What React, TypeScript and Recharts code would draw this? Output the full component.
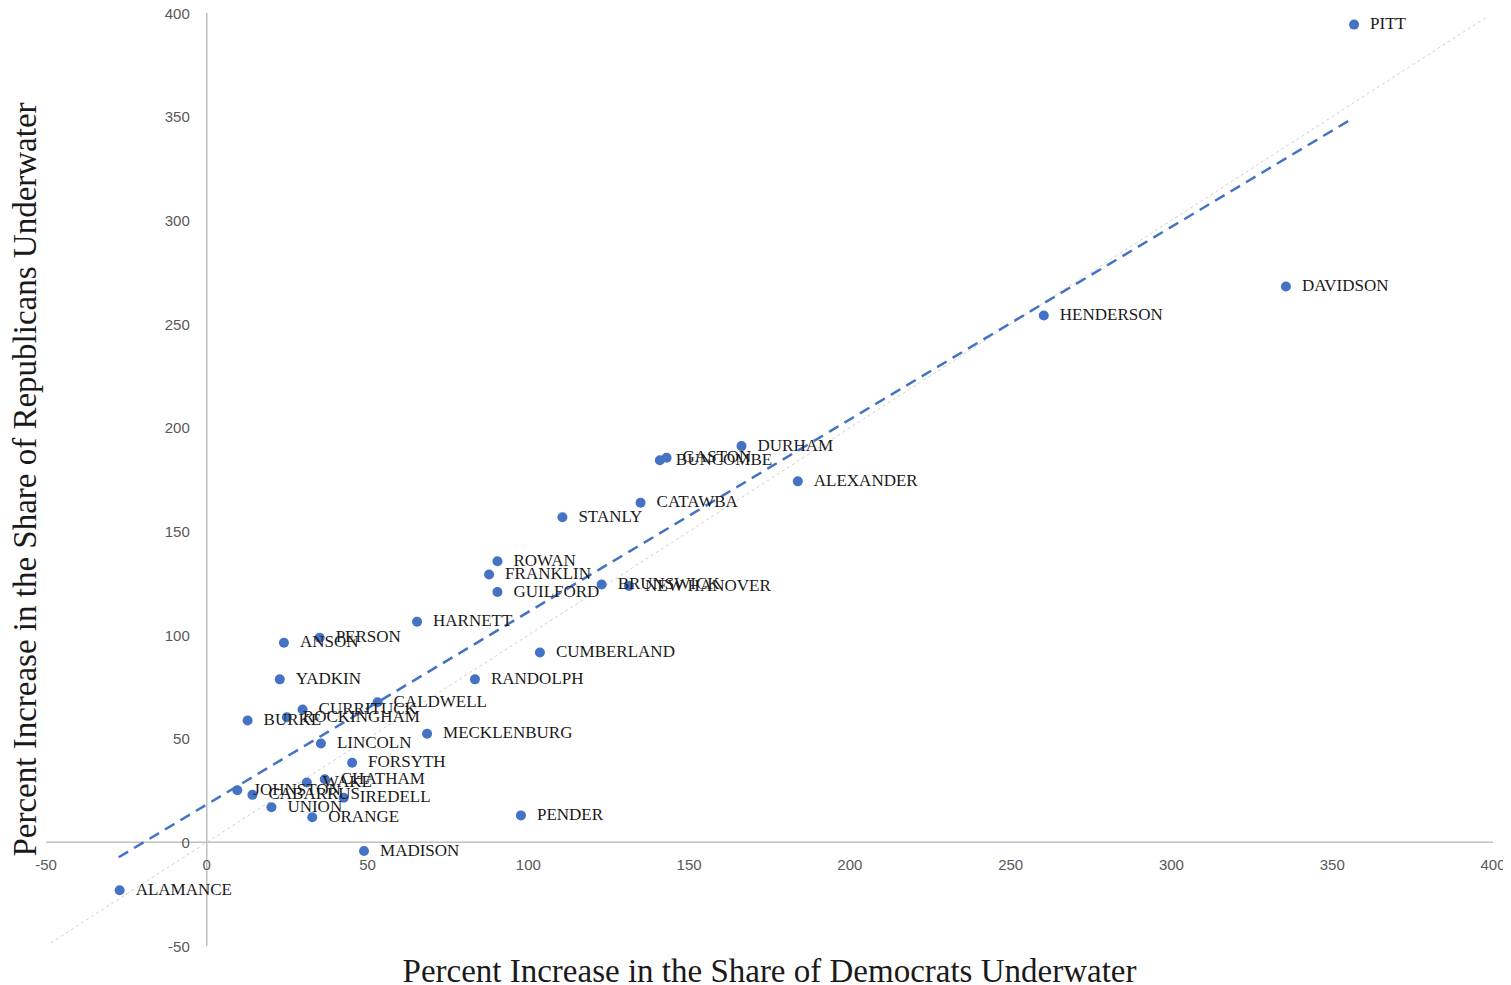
import React from 'react';
import { ScatterChart, Scatter, XAxis, YAxis, ReferenceLine, Label } from 'recharts';

// County names with percent increase in the share of voters underwater
const counties = [
  'PITT', 'DAVIDSON', 'HENDERSON', 'DURHAM', 'GASTON', 'BUNCOMBE', 'ALEXANDER',
  'CATAWBA', 'STANLY', 'ROWAN', 'FRANKLIN', 'GUILFORD', 'BRUNSWICK', 'NEW HANOVER',
  'HARNETT', 'ANSON', 'PERSON', 'CUMBERLAND', 'YADKIN', 'RANDOLPH', 'CALDWELL',
  'CURRITUCK', 'BURKE', 'ROCKINGHAM', 'LINCOLN', 'MECKLENBURG', 'FORSYTH', 'WAKE',
  'CHATHAM', 'JOHNSTON', 'CABARRUS', 'IREDELL', 'UNION', 'ORANGE', 'MADISON',
  'PENDER', 'ALAMANCE',
];
const demIncrease = [
  356.8, 335.6, 260.3, 166.3, 143.0, 140.9, 183.8,
  134.9, 110.6, 90.4, 87.8, 90.4, 122.8, 131.3,
  65.4, 24.0, 35.1, 103.6, 22.7, 83.4, 53.1,
  29.8, 12.7, 24.9, 35.5, 68.5, 45.2, 31.1,
  36.7, 9.5, 14.2, 42.6, 20.1, 32.8, 48.9,
  97.7, -27.1,
];
const repIncrease = [
  394.4, 268.1, 254.1, 191.1, 185.5, 184.3, 174.1,
  163.8, 156.8, 135.6, 129.2, 120.7, 124.4, 123.6,
  106.4, 96.3, 98.7, 91.6, 78.6, 78.6, 67.6,
  64.1, 58.8, 60.3, 47.7, 52.4, 38.4, 28.9,
  30.4, 25.1, 22.9, 21.5, 16.9, 12.1, -4.2,
  13.0, -23.1,
];

const xTicks = [-50, 0, 50, 100, 150, 200, 250, 300, 350, 400];
const yTicks = [-50, 0, 50, 100, 150, 200, 250, 300, 350, 400];

// linear trend line end points
const trendX = [-27.4, 356.8];
const trendY = [-7.2, 349.6];

// equal-change (y = x) guide
const parityEnds = [-48.5, 398.5];

const points = counties.map((name, i) => ({ name, x: demIncrease[i], y: repIncrease[i] }));
const xTickPoints = xTicks.map((v) => ({ x: v, y: 0, label: String(v) }));
const yTickPoints = yTicks.map((v) => ({ x: 0, y: v, label: String(v) }));

const BLUE = '#4472C4';
const AXIS_GREY = '#bfbfbf';
const TICK_FONT = '"Liberation Sans", Arial, sans-serif';
const SERIF = '"Liberation Serif", "Times New Roman", serif';
const Y_TITLE = 'Percent Increase in the Share of Republicans Underwater';

const Dot = (props: any) => <circle cx={props.cx} cy={props.cy} r={5} fill={BLUE} />;

const CountyLabel = (props: any) => (
  <text
    x={props.cx + 16}
    y={props.cy - 1}
    dominantBaseline="central"
    fontFamily={SERIF}
    fontSize={17}
    fill="#1a1a1a"
  >
    {props.payload.name}
  </text>
);

const XTickLabel = (props: any) => (
  <text
    x={props.cx}
    y={props.cy + 22}
    textAnchor="middle"
    dominantBaseline="central"
    fontFamily={TICK_FONT}
    fontSize={15}
    fill="#595959"
  >
    {props.payload.label}
  </text>
);

const YTickLabel = (props: any) => (
  <text
    x={props.cx - 17}
    y={props.cy}
    textAnchor="end"
    dominantBaseline="central"
    fontFamily={TICK_FONT}
    fontSize={15}
    fill="#595959"
  >
    {props.payload.label}
  </text>
);

// rotated y title, baseline kept close to the left edge
const YTitle = (props: any) => {
  const vb = props.viewBox || { x: 0, y: 5, width: 38, height: 933 };
  const x = vb.x + 28;
  const y = vb.y + vb.height / 2;
  return (
    <text
      x={x}
      y={y}
      transform={`rotate(-90, ${x}, ${y})`}
      textAnchor="middle"
      fontFamily={SERIF}
      fontSize={33}
      fill="#1a1a1a"
    >
      {Y_TITLE}
    </text>
  );
};

const App: React.FC = () => {
  return (
    <div style={{ width: 1503, height: 977, overflow: 'hidden' }}>
      <ScatterChart width={1503} height={977} margin={{ top: 5, right: 18, bottom: 0, left: 0 }}>
        <XAxis
          type="number"
          dataKey="x"
          domain={[-50, 400]}
          ticks={xTicks}
          tick={false}
          tickLine={false}
          axisLine={false}
          height={39}
          label={{
            value: 'Percent Increase in the Share of Democrats Underwater',
            position: 'insideBottom',
            offset: 3,
            fontFamily: SERIF,
            fontSize: 33,
            fill: '#1a1a1a',
          }}
        />
        <YAxis
          type="number"
          dataKey="y"
          domain={[-50, 400]}
          ticks={yTicks}
          tick={false}
          tickLine={false}
          axisLine={false}
          width={38}
        >
          <Label content={YTitle} />
        </YAxis>
        <ReferenceLine x={0} stroke={AXIS_GREY} strokeWidth={1.5} />
        <ReferenceLine y={0} stroke={AXIS_GREY} strokeWidth={1.5} />
        <ReferenceLine
          segment={[
            { x: parityEnds[0], y: parityEnds[0] },
            { x: parityEnds[1], y: parityEnds[1] },
          ]}
          stroke="#d0d0d0"
          strokeWidth={1}
          strokeDasharray="3 3"
        />
        <ReferenceLine
          segment={[
            { x: trendX[0], y: trendY[0] },
            { x: trendX[1], y: trendY[1] },
          ]}
          stroke={BLUE}
          strokeWidth={2.5}
          strokeDasharray="11 7"
        />
        <Scatter data={xTickPoints} shape={XTickLabel} isAnimationActive={false} />
        <Scatter data={yTickPoints} shape={YTickLabel} isAnimationActive={false} />
        <Scatter data={points} shape={Dot} isAnimationActive={false} />
        <Scatter data={points} shape={CountyLabel} isAnimationActive={false} />
      </ScatterChart>
    </div>
  );
};

export default App;
